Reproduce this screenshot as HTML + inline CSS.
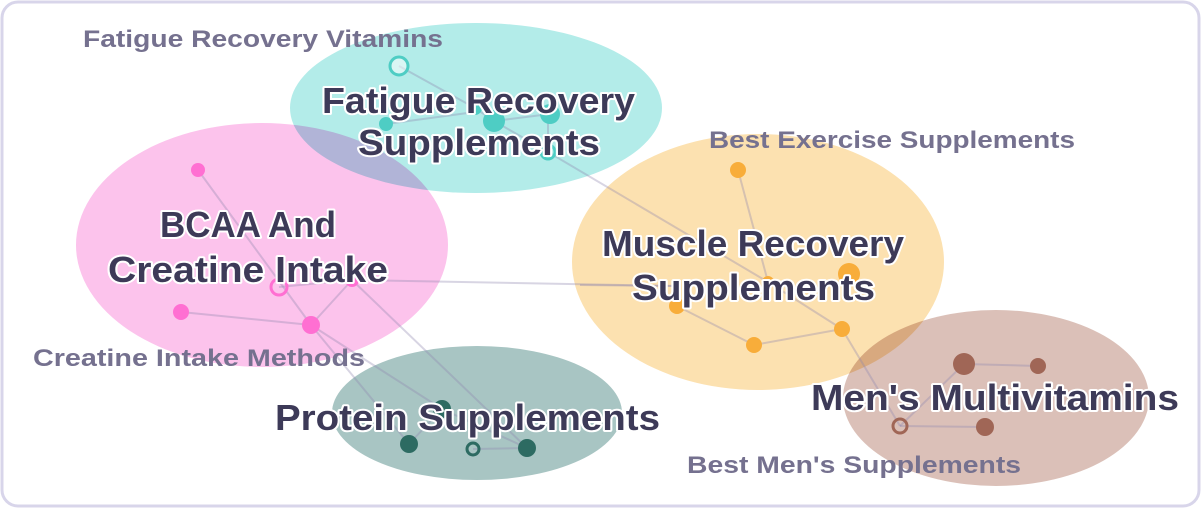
<!DOCTYPE html>
<html><head><meta charset="utf-8"><style>
html,body{margin:0;padding:0;background:#fff;}
svg{display:block;}
.big{font-family:"Liberation Sans",sans-serif;font-weight:bold;font-size:36px;fill:#3d3a58;stroke:#fff;stroke-width:4px;paint-order:stroke;stroke-linejoin:round;}
.sm{font-family:"Liberation Sans",sans-serif;font-weight:bold;font-size:24px;fill:#75718f;}
ellipse{mix-blend-mode:multiply;}
</style></head><body>
<svg width="1201" height="508" viewBox="0 0 1201 508">
<rect x="2" y="2" width="1197" height="504" rx="16" fill="#fff" stroke="#d8d5ea" stroke-width="3"/>
<g style="isolation:isolate">
<ellipse cx="476" cy="108" rx="186" ry="85" fill="#b3ece9"/>
<ellipse cx="262" cy="245" rx="186" ry="122" fill="#fcc3ec"/>
<ellipse cx="758" cy="262" rx="186" ry="128" fill="#fce1b0"/>
<ellipse cx="477" cy="413" rx="145" ry="67" fill="#a8c5c3"/>
<ellipse cx="996" cy="398" rx="153" ry="88" fill="#dbc0b8"/>
</g>
<g stroke="#8e86b0" stroke-opacity="0.35" stroke-width="2" fill="none">
<line x1="399" y1="66" x2="475" y2="108"/><line x1="475" y1="108" x2="494" y2="121"/>
<line x1="386" y1="124" x2="475" y2="112"/><line x1="494" y1="121" x2="550" y2="114"/>
<line x1="548" y1="115" x2="548" y2="152"/><line x1="494" y1="121" x2="548" y2="152"/>
<line x1="548" y1="152" x2="768" y2="282"/>
<line x1="198" y1="170" x2="311" y2="325"/><line x1="181" y1="312" x2="311" y2="325"/>
<line x1="311" y1="325" x2="352" y2="280"/><line x1="279" y1="287" x2="352" y2="280"/>
<line x1="352" y1="280" x2="527" y2="448"/><line x1="311" y1="325" x2="442" y2="409"/>
<line x1="311" y1="325" x2="409" y2="444"/><line x1="352" y1="280" x2="677" y2="286"/>
<line x1="409" y1="444" x2="442" y2="409"/><line x1="442" y1="409" x2="527" y2="448"/>
<line x1="473" y1="449" x2="527" y2="448"/>
<line x1="738" y1="170" x2="768" y2="282"/><line x1="677" y1="306" x2="754" y2="345"/>
<line x1="754" y1="345" x2="842" y2="329"/><line x1="768" y1="282" x2="842" y2="329"/>
<line x1="842" y1="329" x2="900" y2="426"/><line x1="580" y1="285" x2="677" y2="286"/>
<line x1="964" y1="364" x2="1038" y2="366"/><line x1="900" y1="426" x2="964" y2="364"/>
<line x1="900" y1="426" x2="985" y2="427"/>
</g>
<g fill="#4ecdc4">
<circle cx="386" cy="124" r="7"/><circle cx="475" cy="108" r="7"/><circle cx="494" cy="121" r="11"/><circle cx="550" cy="114" r="10"/>
</g>
<circle cx="399" cy="66" r="9" fill="#fff" fill-opacity="0.5" stroke="#4ecdc4" stroke-width="3"/>
<circle cx="548" cy="152" r="7" fill="none" stroke="#4ecdc4" stroke-width="3"/>
<g fill="#ff6fd2">
<circle cx="198" cy="170" r="7"/><circle cx="352" cy="280" r="7"/><circle cx="181" cy="312" r="8"/><circle cx="311" cy="325" r="9"/>
</g>
<circle cx="279" cy="287" r="8" fill="none" stroke="#ff6fd2" stroke-width="3"/>
<g fill="#2d6b62">
<circle cx="442" cy="409" r="9"/><circle cx="409" cy="444" r="9"/><circle cx="527" cy="448" r="9"/>
</g>
<circle cx="473" cy="449" r="6" fill="none" stroke="#2d6b62" stroke-width="3"/>
<g fill="#f8ad3a">
<circle cx="738" cy="170" r="8"/><circle cx="849" cy="274" r="11"/><circle cx="677" cy="306" r="8"/><circle cx="754" cy="345" r="8"/><circle cx="842" cy="329" r="8"/><circle cx="768" cy="282" r="6"/>
</g>
<g fill="#a06656">
<circle cx="964" cy="364" r="11"/><circle cx="1038" cy="366" r="8"/><circle cx="985" cy="427" r="9"/>
</g>
<circle cx="900" cy="426" r="7" fill="none" stroke="#a06656" stroke-width="3"/>
<text class="sm" x="83" y="47" textLength="360" lengthAdjust="spacingAndGlyphs">Fatigue Recovery Vitamins</text>
<text class="sm" x="709" y="148" textLength="366" lengthAdjust="spacingAndGlyphs">Best Exercise Supplements</text>
<text class="sm" x="33" y="366" textLength="332" lengthAdjust="spacingAndGlyphs">Creatine Intake Methods</text>
<text class="sm" x="687" y="473" textLength="334" lengthAdjust="spacingAndGlyphs">Best Men's Supplements</text>
<text class="big" x="322" y="113" textLength="313" lengthAdjust="spacingAndGlyphs">Fatigue Recovery</text>
<text class="big" x="358" y="155" textLength="242" lengthAdjust="spacingAndGlyphs">Supplements</text>
<text class="big" x="160" y="237" textLength="176" lengthAdjust="spacingAndGlyphs">BCAA And</text>
<text class="big" x="108" y="282" textLength="280" lengthAdjust="spacingAndGlyphs">Creatine Intake</text>
<text class="big" x="602" y="256" textLength="302" lengthAdjust="spacingAndGlyphs">Muscle Recovery</text>
<text class="big" x="632" y="300" textLength="243" lengthAdjust="spacingAndGlyphs">Supplements</text>
<text class="big" x="275" y="430" textLength="385" lengthAdjust="spacingAndGlyphs">Protein Supplements</text>
<text class="big" x="811" y="410" textLength="368" lengthAdjust="spacingAndGlyphs">Men's Multivitamins</text>
</svg>
</body></html>
